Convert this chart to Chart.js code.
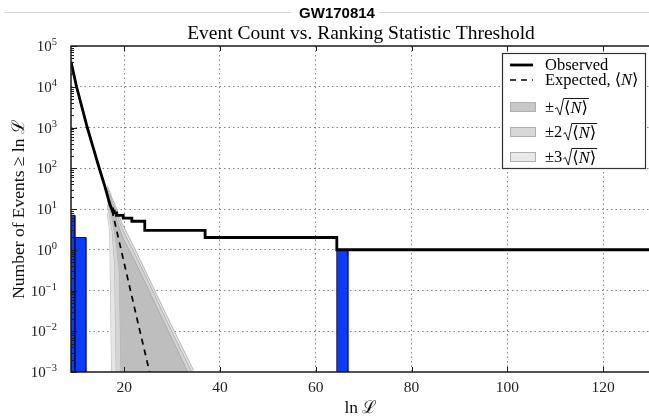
<!DOCTYPE html>
<html>
<head>
<meta charset="utf-8">
<script src="https://cdn.jsdelivr.net/npm/chart.js@4"></script>
<style>
html, body { margin: 0; padding: 0; overflow: hidden; background: #fff; }
</style>
</head>
<body>
<canvas id="canvas" width="652" height="420"></canvas>
<script>
'use strict';

const xMin = 8.9, xMax = 130, yMin = 1e-3, yMax = 1e5;

// observed cumulative count (steps written as repeated thresholds)
const obsX = [8.9, 9.5, 10.06, 11, 12.3, 13.5, 14.8, 16, 17, 17.4, 17.6, 17.6, 17.9, 17.9, 18.4, 18.4,
   19.8, 19.8, 21.6, 21.6, 24.3, 24.3, 36.9, 36.9, 64.4, 64.4, 130];
const obsY = [41000, 20000, 10000, 3800, 1000, 330, 100, 35, 13, 10, 10, 9, 9, 8, 8, 7,
   7, 6, 6, 5, 5, 3, 3, 2, 2, 1, 1];

const expX = [8.9, 10.06, 12.3, 14.8, 17.4, 20, 22.5, 25.3];
const expY = [41000, 10000, 1000, 100, 10, 0.47, 0.025, 0.001];

const bandX = [16.5, 17, 17.5, 18, 18.5, 19, 19.5, 20, 22, 25, 28, 31, 34.5];
const band1Hi = [27, 18, 12, 8, 5.2, 3.4, 2.3, 1.7, 0.6, 0.11, 0.02, 0.0037, 0.0005];
const band1Lo = [17.3, 10.3, 5.9, 2.7, 1.06, 0.28, 1e-4, 1e-4, 1e-4, 1e-4, 1e-4, 1e-4, 1e-4];
const band2Hi = [32, 22, 15, 11, 7.3, 5, 3.5, 2.6, 0.9, 0.17, 0.03, 0.0055, 0.0008];
const band2Lo = [12.6, 6.5, 2.9, 0.47, 1e-4, 1e-4, 1e-4, 1e-4, 1e-4, 1e-4, 1e-4, 1e-4, 1e-4];
const band3Hi = [37, 26, 18, 13.5, 9.5, 6.5, 4.6, 3.5, 1.2, 0.22, 0.04, 0.0075, 0.0011];
const band3Lo = [7.9, 2.8, 1e-4, 1e-4, 1e-4, 1e-4, 1e-4, 1e-4, 1e-4, 1e-4, 1e-4, 1e-4, 1e-4];

const histLeft = [7.4, 9.7, 64.4];
const histRight = [9.7, 12.0, 66.7];
const histCount = [7, 2, 1];

const xTicks = [20, 40, 60, 80, 100, 120];
const yExps = [-3, -2, -1, 0, 1, 2, 3, 4, 5];

const SERIF = '"Liberation Serif", "DejaVu Serif", serif';
const SANS = '"Liberation Sans", Arial, sans-serif';

function pts(xs, ys) {
   return xs.map((x, i) => ({x: x, y: ys[i]}));
}

let datasets = [];
datasets.push({label: 'Observed', data: pts(obsX, obsY), borderColor: '#000', borderWidth: 2.8,
   fill: false, order: 0});
datasets.push({label: 'Expected', data: pts(expX, expY), borderColor: '#000', borderWidth: 1.7,
   borderDash: [6, 5], fill: false, order: 1});

for (let i = 0; i < histCount.length; i++) {
   datasets.push({
      label: 'hist' + i,
      data: [{x: histLeft[i], y: yMin}, {x: histLeft[i], y: histCount[i]},
         {x: histRight[i], y: histCount[i]}, {x: histRight[i], y: yMin}],
      borderColor: '#101050', borderWidth: 1, backgroundColor: '#0b3cf7', fill: 'start', order: 2
   });
}

let bands = [
   {hi: band1Hi, lo: band1Lo, color: 'rgb(190,190,190)', order: 3},
   {hi: band2Hi, lo: band2Lo, color: 'rgb(212,212,212)', order: 4},
   {hi: band3Hi, lo: band3Lo, color: 'rgb(229,229,229)', order: 5}
];
for (let band of bands) {
   datasets.push({data: pts(bandX, band.hi), borderColor: 'rgb(165,165,165)', borderWidth: 0.8,
      backgroundColor: band.color, fill: '+1', order: band.order});
   datasets.push({data: pts(bandX, band.lo), borderColor: 'rgb(165,165,165)', borderWidth: 0.8,
      fill: false, order: band.order});
}

function isDecade(v) {
   let l = Math.log10(v);
   return Math.abs(l - Math.round(l)) < 1e-6;
}

function drawRadical(ctx, x, yc, font) {
   // sqrt sign with overline over <N>
   ctx.font = font;
   let w1 = ctx.measureText('\u27e8').width;
   ctx.font = 'italic ' + font;
   let w2 = ctx.measureText('N').width;
   ctx.font = font;
   let w3 = ctx.measureText('\u27e9').width;
   let tx = x + 9;
   let end = tx + w1 + w2 + w3 + 1;
   ctx.strokeStyle = '#000';
   ctx.lineWidth = 0.9;
   ctx.beginPath();
   ctx.moveTo(x, yc + 1);
   ctx.lineTo(x + 2, yc - 0.5);
   ctx.lineTo(x + 5, yc + 7);
   ctx.lineTo(x + 8.5, yc - 9.5);
   ctx.lineTo(end, yc - 9.5);
   ctx.stroke();
   ctx.fillText('\u27e8', tx, yc + 5);
   ctx.font = 'italic ' + font;
   ctx.fillText('N', tx + w1, yc + 5);
   ctx.font = font;
   ctx.fillText('\u27e9', tx + w1 + w2, yc + 5);
}

function drawLegend(ctx) {
   let L = 502, T = 53, R = 645, B = 168;
   let font = '16.5px ' + SERIF;
   ctx.save();
   ctx.fillStyle = '#fff';
   ctx.fillRect(L, T, R - L, B - T);
   ctx.strokeStyle = '#333';
   ctx.lineWidth = 1.2;
   ctx.strokeRect(L + 0.5, T + 0.5, R - L, B - T);

   ctx.strokeStyle = '#000';
   ctx.lineWidth = 2.8;
   ctx.beginPath();
   ctx.moveTo(510, 65);
   ctx.lineTo(533, 65);
   ctx.stroke();
   ctx.lineWidth = 1.7;
   ctx.setLineDash([6, 5]);
   ctx.beginPath();
   ctx.moveTo(510, 80);
   ctx.lineTo(533, 80);
   ctx.stroke();
   ctx.setLineDash([]);

   ctx.fillStyle = '#000';
   ctx.textAlign = 'left';
   ctx.textBaseline = 'alphabetic';
   ctx.font = font;
   ctx.fillText('Observed', 545, 70);
   let t = 'Expected, \u27e8';
   ctx.fillText(t, 545, 85);
   let w = ctx.measureText(t).width;
   ctx.font = 'italic ' + font;
   ctx.fillText('N', 545 + w, 85);
   let wn = ctx.measureText('N').width;
   ctx.font = font;
   ctx.fillText('\u27e9', 545 + w + wn, 85);

   let rows = [{y: 107, pre: '\u00b1', color: 'rgb(200,200,200)'},
      {y: 132, pre: '\u00b12', color: 'rgb(216,216,216)'},
      {y: 157, pre: '\u00b13', color: 'rgb(232,232,232)'}];
   for (let row of rows) {
      ctx.fillStyle = row.color;
      ctx.fillRect(510, row.y - 4.5, 25, 9);
      ctx.strokeStyle = 'rgb(175,175,175)';
      ctx.lineWidth = 1;
      ctx.strokeRect(510.5, row.y - 4.5, 25, 9);
      ctx.fillStyle = '#000';
      ctx.font = font;
      ctx.fillText(row.pre, 545, row.y + 5);
      let pw = ctx.measureText(row.pre).width;
      drawRadical(ctx, 545 + pw + 1, row.y + 1, font);
   }
   ctx.restore();
}

const decor = {
   id: 'decor',
   beforeDraw(chart) {
      let ctx = chart.ctx;
      ctx.save();
      ctx.fillStyle = '#fff';
      ctx.fillRect(0, 0, chart.width, chart.height);
      ctx.restore();
   },
   afterDraw(chart) {
      let ctx = chart.ctx;
      let a = chart.chartArea;
      let xs = chart.scales.x, ys = chart.scales.y;
      ctx.save();

      // spines
      ctx.strokeStyle = '#1a1a1a';
      ctx.lineWidth = 1.5;
      ctx.beginPath();
      ctx.moveTo(a.right + 2, a.top);
      ctx.lineTo(a.left, a.top);
      ctx.lineTo(a.left, a.bottom);
      ctx.lineTo(a.right + 2, a.bottom);
      ctx.stroke();

      // inward ticks
      ctx.lineWidth = 1;
      ctx.beginPath();
      for (let v of xTicks) {
         let px = Math.round(xs.getPixelForValue(v)) + 0.5;
         ctx.moveTo(px, a.bottom);
         ctx.lineTo(px, a.bottom - 5);
         ctx.moveTo(px, a.top);
         ctx.lineTo(px, a.top + 5);
      }
      for (let e of yExps) {
         let py = Math.round(ys.getPixelForValue(Math.pow(10, e))) + 0.5;
         ctx.moveTo(a.left, py);
         ctx.lineTo(a.left + 6, py);
         if (e < 5) {
            for (let m = 2; m < 10; m++) {
               let pm = Math.round(ys.getPixelForValue(m * Math.pow(10, e))) + 0.5;
               ctx.moveTo(a.left, pm);
               ctx.lineTo(a.left + 3, pm);
            }
         }
      }
      ctx.stroke();

      // tick labels
      ctx.fillStyle = '#222';
      ctx.textBaseline = 'alphabetic';
      ctx.textAlign = 'center';
      ctx.font = '15.5px ' + SERIF;
      for (let v of xTicks) {
         ctx.fillText(String(v), xs.getPixelForValue(v), 392);
      }
      ctx.textAlign = 'left';
      for (let e of yExps) {
         let py = ys.getPixelForValue(Math.pow(10, e));
         let sup = e < 0 ? '\u2212' + Math.abs(e) : String(e);
         ctx.font = '10.5px ' + SERIF;
         let ws = ctx.measureText(sup).width;
         ctx.font = '15px ' + SERIF;
         let wb = ctx.measureText('10').width;
         let right = 57;
         ctx.fillText('10', right - ws - wb, py + 5);
         ctx.font = '10.5px ' + SERIF;
         ctx.fillText(sup, right - ws, py - 1);
      }

      // axis titles
      ctx.fillStyle = '#111';
      ctx.textAlign = 'center';
      ctx.font = '17.5px ' + SERIF;
      ctx.fillText('ln \u2112', (a.left + a.right) / 2, 413);
      ctx.save();
      ctx.translate(24, (a.top + a.bottom) / 2);
      ctx.rotate(-Math.PI / 2);
      ctx.fillText('Number of Events \u2265 ln \u2112', 0, 0);
      ctx.restore();

      // titles
      ctx.fillStyle = '#000';
      ctx.font = '19.5px ' + SERIF;
      ctx.fillText('Event Count vs. Ranking Statistic Threshold', (a.left + a.right) / 2, 39);
      ctx.font = 'bold 15px ' + SANS;
      let gw = ctx.measureText('GW170814').width;
      ctx.fillText('GW170814', 337, 18);
      ctx.strokeStyle = '#d4d4d4';
      ctx.lineWidth = 1;
      ctx.beginPath();
      ctx.moveTo(4, 12.5);
      ctx.lineTo(337 - gw / 2 - 8, 12.5);
      ctx.moveTo(337 + gw / 2 + 4, 12.5);
      ctx.lineTo(chart.width, 12.5);
      ctx.stroke();

      drawLegend(ctx);
      ctx.restore();
   }
};

let ctx = document.querySelector('#canvas').getContext('2d');
let chart = new Chart(ctx, {
   type: 'line',
   data: {datasets: datasets},
   plugins: [decor],
   options: {
      responsive: false,
      animation: false,
      devicePixelRatio: 1,
      layout: {padding: {top: 46, right: 1, left: 0, bottom: 0}},
      elements: {point: {radius: 0}, line: {tension: 0}},
      plugins: {legend: {display: false}, tooltip: {enabled: false}, title: {display: false}},
      scales: {
         x: {
            type: 'linear', min: xMin, max: xMax,
            ticks: {display: false, stepSize: 20, includeBounds: false},
            grid: {
               drawTicks: false, lineWidth: 1,
               color: c => (c.tick && xTicks.includes(c.tick.value)) ? '#808080' : 'rgba(0,0,0,0)'
            },
            border: {display: false, dash: [1.5, 3]},
            afterFit: s => { s.height = 48; }
         },
         y: {
            type: 'logarithmic', min: yMin, max: yMax,
            ticks: {display: false},
            grid: {
               drawTicks: false, lineWidth: 1,
               color: c => (c.tick && isDecade(c.tick.value) && c.tick.value > yMin * 1.01 &&
                  c.tick.value < yMax * 0.99) ? '#808080' : 'rgba(0,0,0,0)'
            },
            border: {display: false, dash: [1.5, 3]},
            afterFit: s => { s.width = 71; }
         }
      }
   }
});
</script>
</body>
</html>
